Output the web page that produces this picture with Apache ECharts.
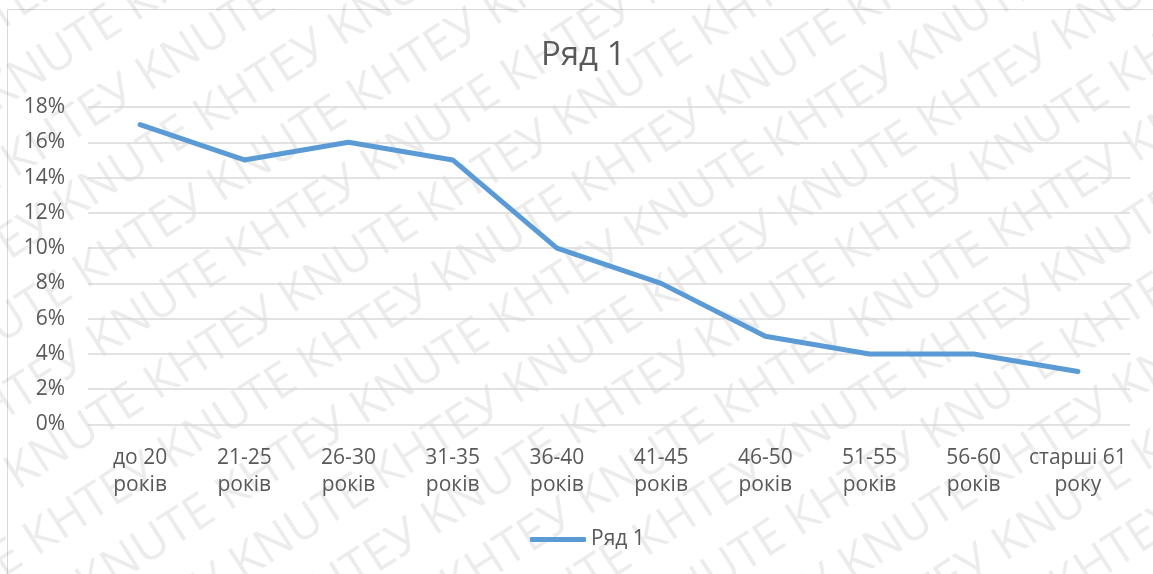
<!DOCTYPE html>
<html>
<head>
<meta charset="utf-8">
<script src="https://cdn.jsdelivr.net/npm/echarts@6/dist/echarts.min.js"></script>
<style>
  html, body { margin: 0; padding: 0; background: #ffffff; }
  #chart { width: 1153px; height: 574px; }
</style>
</head>
<body>
<div id="chart"></div>
<script>
// Age groups and the share of each group
const categories = [
  'до 20\nроків', '21-25\nроків', '26-30\nроків', '31-35\nроків', '36-40\nроків',
  '41-45\nроків', '46-50\nроків', '51-55\nроків', '56-60\nроків', 'старші 61\nроку'
];
const seriesName = 'Ряд 1';
const shares = [0.17, 0.15, 0.16, 0.15, 0.10, 0.08, 0.05, 0.04, 0.04, 0.03];
const watermarkWord = 'КНТЕУ KNUTE ';

const FONT = '"Open Sans", "Noto Sans", sans-serif';
const TEXT = '#595959';
const BLUE = '#5b9bd5';

// Diagonal repeated watermark text behind the chart
function buildWatermark() {
  const rows = [];
  const line = watermarkWord.repeat(10);
  for (let i = -10; i <= 12; i++) {
    rows.push({
      type: 'text',
      x: -900 + (i % 2) * 140,
      y: i * 66,
      style: { text: line, font: '48px ' + FONT, fill: 'rgba(0,0,0,0.075)' }
    });
  }
  return {
    type: 'group',
    x: 0, y: 300,
    rotation: Math.PI / 5.5,
    silent: true,
    z: -10,
    children: rows
  };
}

const chart = echarts.init(document.getElementById('chart'), null, { renderer: 'canvas' });
chart.setOption({
  backgroundColor: '#ffffff',
  animation: false,
  title: {
    text: seriesName,
    left: 536,
    top: 34,
    textStyle: { fontFamily: FONT, fontSize: 33, fontWeight: 'normal', color: TEXT }
  },
  legend: {
    data: [{ name: seriesName, icon: 'roundRect' }],
    left: 525,
    top: 524,
    itemWidth: 56,
    itemHeight: 5,
    itemGap: 6,
    itemStyle: { color: BLUE },
    textStyle: { fontFamily: FONT, fontSize: 21, color: TEXT }
  },
  grid: { left: 88, right: 23, top: 107, bottom: 149.5, containLabel: false },
  xAxis: {
    type: 'category',
    data: categories,
    boundaryGap: true,
    axisLine: { show: false },
    axisTick: { show: false },
    axisLabel: {
      fontFamily: FONT, fontSize: 21, color: TEXT, lineHeight: 27, margin: 20, interval: 0
    }
  },
  yAxis: {
    type: 'value',
    min: 0,
    max: 0.18,
    interval: 0.02,
    axisLine: { show: false },
    axisTick: { show: false },
    splitLine: { lineStyle: { color: '#d9d9d9', width: 1.5 } },
    axisLabel: {
      fontFamily: FONT, fontSize: 21, color: TEXT, margin: 23,
      formatter: v => Math.round(v * 100) + '%'
    }
  },
  series: [{
    name: seriesName,
    type: 'line',
    data: shares,
    symbol: 'none',
    lineStyle: { color: BLUE, width: 5, cap: 'round', join: 'round' },
    itemStyle: { color: BLUE }
  }],
  graphic: [
    buildWatermark(),
    {
      type: 'rect',
      silent: true,
      z: -5,
      shape: { x: 7.5, y: 9.5, width: 1300, height: 700 },
      style: { fill: null, stroke: '#d9d9d9', lineWidth: 1 }
    }
  ]
});
</script>
</body>
</html>
